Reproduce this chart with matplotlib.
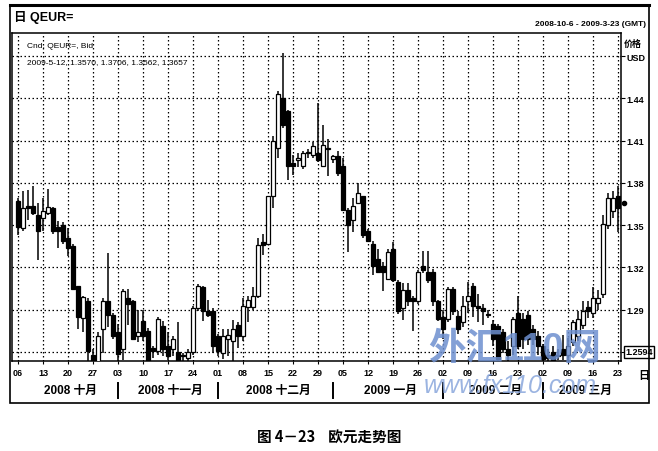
import matplotlib
matplotlib.use("Agg")
import matplotlib.pyplot as plt
import matplotlib.transforms as mtransforms
from matplotlib.patches import Rectangle
from matplotlib.lines import Line2D

plt.rcParams['font.family'] = ['Liberation Sans Narrow', 'Liberation Sans', 'Noto Sans CJK SC', 'DejaVu Sans']

# daily EUR/USD candles, 2008-10-06 .. 2009-03-23
opens = [1.367, 1.348, 1.364, 1.364, 1.357, 1.355, 1.359, 1.362, 1.349, 1.350,
         1.341, 1.335, 1.307, 1.284, 1.296, 1.258, 1.250, 1.276, 1.296, 1.286,
         1.274, 1.262, 1.298, 1.296, 1.271, 1.282, 1.275, 1.263, 1.261, 1.2786,
         1.264, 1.262, 1.260, 1.258, 1.256, 1.260, 1.291, 1.306, 1.289, 1.289,
         1.271, 1.259, 1.269, 1.268, 1.279, 1.271, 1.292, 1.292, 1.300, 1.338,
         1.337, 1.371, 1.405, 1.4407, 1.431, 1.394, 1.396, 1.392, 1.401, 1.400,
         1.401, 1.392, 1.405, 1.397, 1.399, 1.392, 1.361, 1.354, 1.366, 1.371,
         1.346, 1.337, 1.326, 1.321, 1.312, 1.333, 1.310, 1.291, 1.304, 1.298,
         1.296, 1.321, 1.317, 1.317, 1.296, 1.285, 1.2836, 1.305, 1.2857, 1.281,
         1.296, 1.307, 1.2925, 1.291, 1.287, 1.280, 1.2786, 1.274, 1.262, 1.264,
         1.288, 1.2836, 1.286, 1.276, 1.271, 1.264, 1.258, 1.260, 1.258, 1.262,
         1.258, 1.267, 1.271, 1.279, 1.292, 1.288, 1.295, 1.301, 1.350, 1.360,
         1.371]
highs = [1.369, 1.374, 1.375, 1.378, 1.366, 1.369, 1.376, 1.363, 1.353, 1.352,
         1.348, 1.337, 1.307, 1.300, 1.298, 1.262, 1.274, 1.298, 1.330, 1.288,
         1.280, 1.305, 1.305, 1.297, 1.290, 1.290, 1.277, 1.264, 1.285, 1.282,
         1.274, 1.271, 1.281, 1.259, 1.262, 1.293, 1.308, 1.307, 1.297, 1.291,
         1.273, 1.276, 1.276, 1.283, 1.281, 1.298, 1.300, 1.306, 1.341, 1.344,
         1.371, 1.4136, 1.445, 1.472, 1.432, 1.400, 1.401, 1.403, 1.404, 1.409,
         1.437, 1.421, 1.411, 1.400, 1.403, 1.398, 1.362, 1.369, 1.380, 1.371,
         1.347, 1.339, 1.333, 1.324, 1.333, 1.338, 1.311, 1.309, 1.309, 1.300,
         1.318, 1.332, 1.332, 1.319, 1.297, 1.290, 1.306, 1.306, 1.289, 1.300,
         1.310, 1.309, 1.301, 1.294, 1.290, 1.283, 1.280, 1.276, 1.268, 1.285,
         1.300, 1.288, 1.289, 1.279, 1.275, 1.266, 1.262, 1.264, 1.262, 1.272,
         1.270, 1.283, 1.289, 1.296, 1.296, 1.306, 1.304, 1.357, 1.373, 1.374,
         1.378]
lows = [1.343, 1.346, 1.354, 1.357, 1.325, 1.346, 1.357, 1.344, 1.334, 1.337,
        1.328, 1.305, 1.276, 1.274, 1.250, 1.235, 1.240, 1.259, 1.278, 1.269,
        1.250, 1.254, 1.279, 1.269, 1.267, 1.268, 1.245, 1.256, 1.258, 1.257,
        1.254, 1.257, 1.245, 1.252, 1.253, 1.258, 1.289, 1.282, 1.285, 1.259,
        1.257, 1.255, 1.257, 1.250, 1.263, 1.268, 1.281, 1.290, 1.298, 1.329,
        1.336, 1.362, 1.398, 1.419, 1.382, 1.386, 1.391, 1.390, 1.398, 1.398,
        1.395, 1.391, 1.385, 1.394, 1.385, 1.360, 1.331, 1.345, 1.365, 1.341,
        1.338, 1.315, 1.316, 1.303, 1.311, 1.310, 1.287, 1.283, 1.293, 1.275,
        1.294, 1.316, 1.309, 1.293, 1.282, 1.269, 1.281, 1.286, 1.273, 1.278,
        1.288, 1.285, 1.281, 1.279, 1.284, 1.264, 1.253, 1.259, 1.252, 1.258,
        1.262, 1.262, 1.265, 1.265, 1.258, 1.250, 1.250, 1.248, 1.254, 1.254,
        1.253, 1.264, 1.268, 1.276, 1.284, 1.284, 1.290, 1.298, 1.347, 1.355,
        1.345]
closes = [1.349, 1.362, 1.362, 1.359, 1.346, 1.360, 1.363, 1.346, 1.346, 1.339,
          1.334, 1.305, 1.285, 1.299, 1.261, 1.248, 1.271, 1.296, 1.286, 1.271,
          1.2586, 1.303, 1.294, 1.269, 1.274, 1.271, 1.253, 1.261, 1.2836, 1.262,
          1.257, 1.269, 1.250, 1.257, 1.260, 1.291, 1.307, 1.289, 1.286, 1.264,
          1.261, 1.271, 1.272, 1.276, 1.271, 1.293, 1.297, 1.300, 1.336, 1.336,
          1.371, 1.410, 1.443, 1.421, 1.392, 1.392, 1.398, 1.401, 1.402, 1.406,
          1.396, 1.407, 1.404, 1.399, 1.387, 1.361, 1.350, 1.364, 1.373, 1.343,
          1.339, 1.321, 1.317, 1.317, 1.331, 1.311, 1.289, 1.304, 1.296, 1.296,
          1.317, 1.318, 1.311, 1.296, 1.2836, 1.276, 1.305, 1.289, 1.276, 1.293,
          1.300, 1.293, 1.291, 1.289, 1.286, 1.269, 1.255, 1.262, 1.258, 1.2836,
          1.264, 1.269, 1.269, 1.269, 1.264, 1.255, 1.256, 1.254, 1.257, 1.258,
          1.264, 1.281, 1.2836, 1.289, 1.289, 1.298, 1.298, 1.351, 1.369, 1.369,
          1.362]

tick_labels = ['06', '13', '20', '27', '03', '10', '17', '24', '01', '08', '15', '22', '29',
               '05', '12', '19', '26', '02', '09', '16', '23', '02', '09', '16', '23']
month_labels = ['2008 十月', '2008 十一月', '2008 十二月', '2009 一月', '2009 二月', '2009 三月']
month_starts = [0, 20, 40, 63, 85, 105, 121]
price_levels = [1.26, 1.29, 1.32, 1.35, 1.38, 1.41, 1.44, 1.47]
price_labels = ['', '1.29', '1.32', '1.35', '1.38', '1.41', '1.44', 'USD']

W, H = 658, 452
fig = plt.figure(figsize=(W / 100, H / 100), dpi=100)

def fx(x):
    return x / W

def fy(y):
    return 1 - y / H

ax = fig.add_axes([fx(12), fy(362), fx(621) - fx(12), fy(34) - fy(362)])
ax.set_xlim(-1.2, 120.6)
ax.set_ylim(1.2536, 1.4865)

# candles
bw = 0.78
for i in range(len(opens)):
    o, h, l, c = opens[i], highs[i], lows[i], closes[i]
    ax.vlines(i, l, h, color='black', lw=1.1, zorder=3)
    bottom = min(o, c)
    height = max(abs(c - o), 0.0008)
    face = 'white' if c >= o else 'black'
    ax.add_patch(Rectangle((i - bw / 2, bottom), bw, height, facecolor=face,
                           edgecolor='black', lw=0.9, zorder=4))

# last-price marker
ax.plot([121.2], [closes[-1] + 0.004], marker='o', ms=3, color='black', clip_on=False, zorder=5)

ax.set_xticks([5 * k for k in range(len(tick_labels))])
ax.set_xticklabels(tick_labels, fontsize=6.5, fontweight='bold')
ax.tick_params(axis='x', direction='out', length=2, pad=3, width=0.8)

ax.yaxis.tick_right()
ax.set_yticks(price_levels)
ax.set_yticklabels(price_labels, fontsize=6.5, fontweight='bold')
ax.tick_params(axis='y', direction='out', length=3, pad=1, width=0.8)

ax.grid(True, color='black', linestyle=(0, (1.2, 2)), lw=0.9)
ax.set_axisbelow(True)
for s in ax.spines.values():
    s.set_linewidth(1.1)

# month captions under the dates
trans = mtransforms.blended_transform_factory(ax.transData, fig.transFigure)
for k, lab in enumerate(month_labels):
    mid = (month_starts[k] + month_starts[k + 1]) / 2 + 0.5
    ax.text(mid, fy(391), lab, transform=trans, ha='center', va='center',
            fontsize=8.5, fontweight='bold', clip_on=False)
    if k > 0:
        ax.add_line(Line2D([month_starts[k]] * 2, [fy(384), fy(399)], transform=trans,
                           color='black', lw=1.4, clip_on=False))

# boxed bottom value
ax.text(1.007, 1.26, '1.2594', transform=mtransforms.blended_transform_factory(ax.transAxes, ax.transData),
        ha='left', va='center', fontsize=6.5, fontweight='bold',
        bbox=dict(boxstyle='square,pad=0.12', fc='white', ec='black', lw=1.0), clip_on=False)

# outer frame and header
fig.add_artist(Rectangle((fx(10), fy(404)), fx(649) - fx(10), fy(6) - fy(404),
                         transform=fig.transFigure, fill=False, ec='black', lw=1.2))
fig.add_artist(Line2D([fx(10), fx(649)], [fy(6), fy(6)], transform=fig.transFigure, color='black', lw=2.2))
fig.text(fx(14), fy(17), '日 QEUR=', fontsize=9, fontweight='bold', va='center', ha='left')
fig.text(fx(646), fy(25), '2008-10-6 - 2009-3-23 (GMT)', fontsize=6, fontweight='bold', va='center', ha='right')
fig.text(fx(27), fy(47), 'Cnd, QEUR=, Bid', fontsize=6, va='center', ha='left')
fig.text(fx(27), fy(63), '2009-5-12, 1.3570, 1.3706, 1.3562, 1.3657', fontsize=6, va='center', ha='left')
fig.text(fx(624), fy(44), '价格', fontsize=6.5, fontweight='bold', va='center', ha='left')
fig.text(fx(638), fy(376), '日', fontsize=8, fontweight='bold', va='center', ha='left')

# watermark
fig.text(fx(515), fy(350), '外汇110网', fontsize=27, fontweight='bold', color='#6d8fcf',
         alpha=0.85, ha='center', va='center', zorder=10)
fig.text(fx(510), fy(386), 'www.fx110.com', fontsize=18, style='italic', color='#8aa7dc',
         alpha=0.85, ha='center', va='center', zorder=10)

# caption
fig.text(0.5, fy(437), '图 4－23    欧元走势图', fontsize=10.5, fontweight='bold',
         ha='center', va='center', family=['Noto Sans CJK SC', 'DejaVu Sans'])

fig.savefig('out.png', dpi=100)
